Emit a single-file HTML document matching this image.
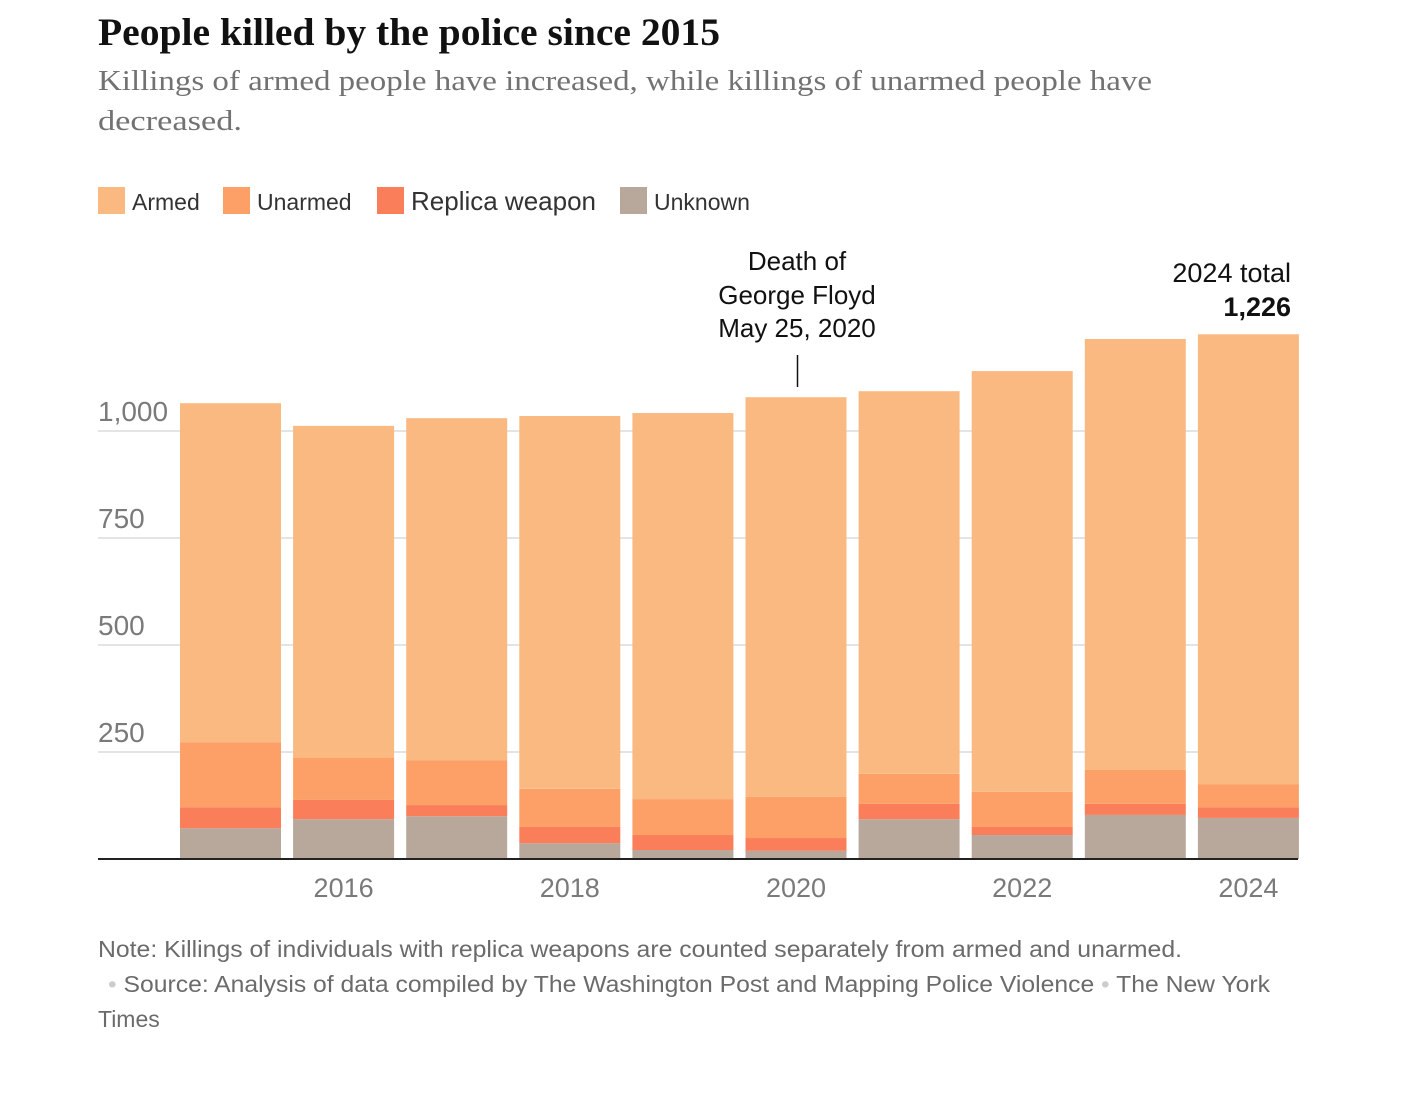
<!DOCTYPE html>
<html><head><meta charset="utf-8"><style>
body{margin:0;background:#fff;width:1426px;height:1088px;overflow:hidden;font-family:"Liberation Sans",sans-serif}
</style></head><body>
<svg width="1426" height="1088">
<text x="98" y="45" font-family="Liberation Serif" font-weight="bold" font-size="39" fill="#111" textLength="622" lengthAdjust="spacingAndGlyphs">People killed by the police since 2015</text>
<g font-family="Liberation Serif" font-size="29" fill="#727272"><text x="98" y="90" textLength="1054" lengthAdjust="spacingAndGlyphs">Killings of armed people have increased, while killings of unarmed people have</text><text x="98" y="130" textLength="144" lengthAdjust="spacingAndGlyphs">decreased.</text></g>
<g id="legend" font-size="23" fill="#333"></g>
<g id="grid"></g><g id="bars"></g><g id="xl"></g>
<g font-size="26" fill="#111" text-anchor="middle">
<text x="797" y="270">Death of</text><text x="797" y="304">George Floyd</text><text x="797" y="337">May 25, 2020</text>
<line x1="797.5" y1="355" x2="797.5" y2="387" stroke="#111" stroke-width="1.5"/></g>
<g font-size="27" fill="#111" text-anchor="end">
<text x="1291" y="282">2024 total</text><text x="1291" y="316" font-weight="bold">1,226</text></g>
<g font-size="23" fill="#6b6b6b">
<text x="98" y="957" textLength="1084" lengthAdjust="spacingAndGlyphs">Note: Killings of individuals with replica weapons are counted separately from armed and unarmed.</text>
<text x="108" y="992" textLength="1162" lengthAdjust="spacingAndGlyphs"><tspan fill="#ccc">•</tspan>  Source: Analysis of data compiled by The Washington Post and Mapping Police Violence  <tspan fill="#ccc">•</tspan>  The New York</text>
<text x="98" y="1027">Times</text></g>
</svg>
<script>
const years=[2015,2016,2017,2018,2019,2020,2021,2022,2023,2024];
const unknown=[72,93,100,37,21,19,93,56,103,96];
const replica=[49,45,26,38,35,30,36,19,26,25];
const unarmed=[152,98,105,89,84,96,70,82,79,54];
const armed=[792,776,799,871,902,934,894,983,1007,1051];
const yTicks=[250,500,750,1000];
const xTickYears=[2016,2018,2020,2022,2024];
const seriesNames=['Unknown','Replica weapon','Unarmed','Armed'];
const colors={'Armed':'#fbb982','Unarmed':'#fca068','Replica weapon':'#fb7e5a','Unknown':'#b8a89c'};
const NS='http://www.w3.org/2000/svg';
const y=v=>859-v*0.428;
const x0=180,pitch=113.1,bw=101;
const xb=i=>x0+i*pitch;
function mk(t,a,p){const e=document.createElementNS(NS,t);for(const k in a)e.setAttribute(k,a[k]);p.appendChild(e);return e;}
const grid=document.getElementById('grid');
yTicks.forEach(t=>{
 const l=mk('line',{x1:98,x2:1298,y1:y(t),y2:y(t),stroke:'#e4e4e4','stroke-width':2},grid);
 
 
 const tx=mk('text',{x:98,y:y(t)-10,'font-size':28,fill:'#7a7a7a'},grid);
 tx.textContent=t>=1000?t.toLocaleString('en-US'):t;
 
 
});
const bars=document.getElementById('bars');
const data={'Unknown':unknown,'Replica weapon':replica,'Unarmed':unarmed,'Armed':armed};
years.forEach((yr,i)=>{
 let base=0;
 seriesNames.forEach(s=>{
  const v=data[s][i];
  const r=mk('rect',{x:xb(i),width:bw,y:y(base+v),height:v*0.428,fill:colors[s]},bars);
  
  
  base+=v;
 });
});
const bl=mk('line',{x1:98,x2:1298,y1:859,y2:859,stroke:'#222','stroke-width':2},bars);


const xl=document.getElementById('xl');
xTickYears.forEach(yr=>{
 const i=years.indexOf(yr);
 const t=mk('text',{x:xb(i)+bw/2,y:897,'font-size':27,fill:'#7a7a7a','text-anchor':'middle'},xl);
 t.textContent=yr;
 
 
});
const lg=document.getElementById('legend');
const legItems=['Armed','Unarmed','Replica weapon','Unknown'];
const legX=[98,223,377,620];
legItems.forEach((s,i)=>{
 const g=mk('g',{},lg);
 
 
 mk('rect',{x:legX[i],y:187,width:27,height:27,fill:colors[s]},g);
 const t=mk('text',{x:legX[i]+34,y:210,'font-size':s==='Replica weapon'?26:23},g);
 t.textContent=s;
});
</script>
</body></html>
